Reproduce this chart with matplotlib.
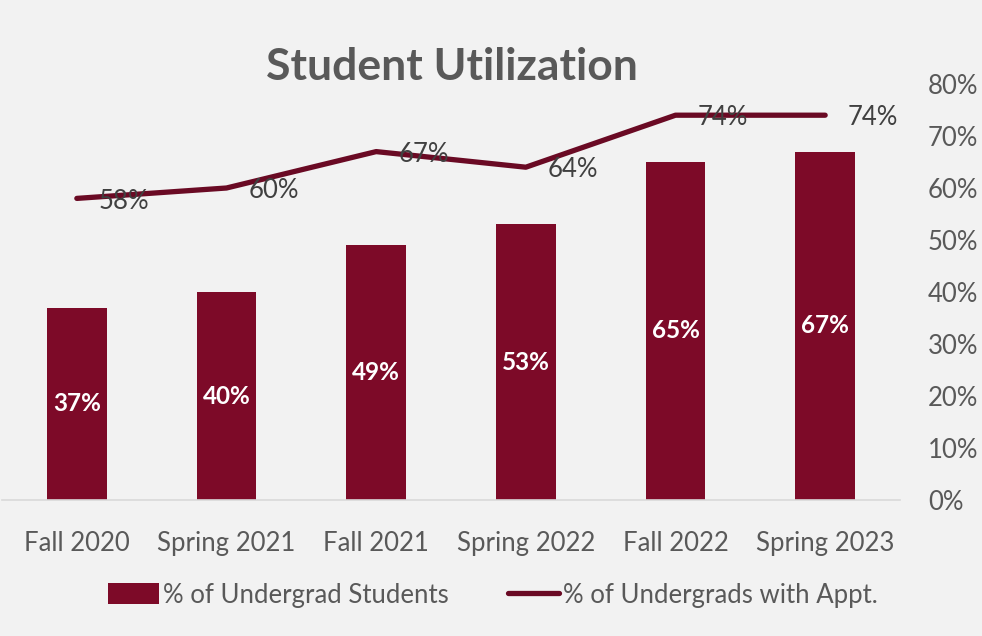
import matplotlib
matplotlib.use("Agg")
import matplotlib.pyplot as plt
from matplotlib.patches import Patch
from matplotlib.lines import Line2D

categories = ["Fall 2020", "Spring 2021", "Fall 2021", "Spring 2022", "Fall 2022", "Spring 2023"]
undergrad_pct = [0.37, 0.40, 0.49, 0.53, 0.65, 0.67]
appt_pct = [0.58, 0.60, 0.67, 0.64, 0.74, 0.74]
yticks = [0, 0.1, 0.2, 0.3, 0.4, 0.5, 0.6, 0.7, 0.8]

plt.rcParams['font.family'] = ['Lato', 'DejaVu Sans']
bg = "#f2f2f2"
bar_color = "#7d0a28"
line_color = "#6a0a24"
txt = "#595959"
fs = 18.5

fig = plt.figure(figsize=(9.82, 6.36), dpi=100, facecolor=bg)
ax = fig.add_axes([2/982, 1 - 500/636, 898/982, (500 - 84)/636])
ax.set_facecolor(bg)

x = list(range(len(categories)))
bars = ax.bar(x, undergrad_pct, width=0.4, color=bar_color, zorder=2)
ax.plot(x, appt_pct, color=line_color, lw=3.8, solid_capstyle='round', solid_joinstyle='round', zorder=3)

for xi, v in zip(x, undergrad_pct):
    ax.text(xi, v / 2, f"{round(v*100)}%", ha='center', va='center', color='white',
            fontsize=17.5, fontweight='bold', zorder=4)
for xi, v in zip(x, appt_pct):
    ax.annotate(f"{round(v*100)}%", (xi, v), xytext=(16, -2), textcoords='offset points',
                ha='left', va='center', color="#404040", fontsize=fs, zorder=5)

ax.set_xlim(-0.5, len(categories) - 0.5)
ax.set_ylim(0, 0.8)
ax.yaxis.tick_right()
ax.set_yticks(yticks)
ax.set_yticklabels([f"{round(t*100)}%" for t in yticks])
ax.set_xticks(x)
ax.set_xticklabels(categories)
ax.tick_params(axis='y', length=0, pad=20, labelsize=fs, labelcolor=txt)
ax.tick_params(axis='x', length=0, pad=22, labelsize=fs, labelcolor=txt)
for s in ['top', 'left', 'right']:
    ax.spines[s].set_visible(False)
ax.spines['bottom'].set_color("#d9d9d9")
ax.spines['bottom'].set_linewidth(1.2)

fig.text(452/982, 1 - 67/636, "Student Utilization", ha='center', va='center',
         fontsize=32, fontweight='bold', color=txt)

handles = [Patch(facecolor=bar_color, edgecolor='none'),
           Line2D([0], [0], color=line_color, lw=3.8, solid_capstyle='round')]
fig.legend(handles, ["% of Undergrad Students", "% of Undergrads with Appt."],
           loc='center', bbox_to_anchor=(493/982, 1 - 595/636), ncol=2, frameon=False,
           fontsize=fs, labelcolor=txt, handlelength=2.0, handletextpad=0.15,
           columnspacing=2.3, handleheight=0.9)

fig.savefig("out.png", dpi=100, facecolor=bg)
